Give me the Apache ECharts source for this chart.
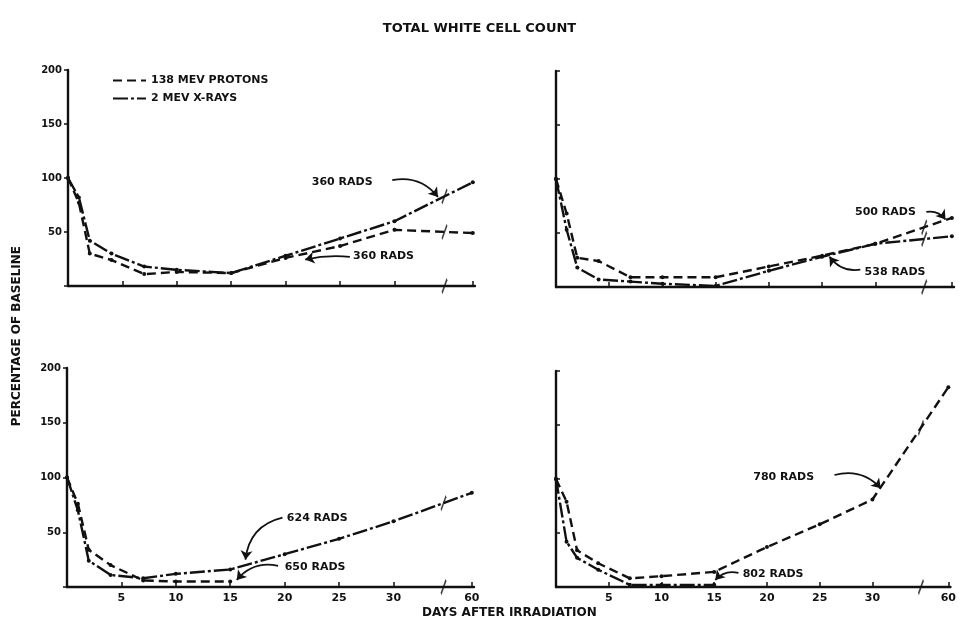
<!DOCTYPE html>
<html>
<head>
<meta charset="utf-8">
<title>Total White Cell Count</title>
<script src="https://cdn.jsdelivr.net/npm/echarts@6.0.0/dist/echarts.min.js"></script>
<style>
  html, body { margin: 0; padding: 0; background: #fff; }
  #chart { width: 959px; height: 623px; }
</style>
</head>
<body>
<div id="chart"></div>
<script>
// Days after irradiation at which counts were taken
const DAYS = [0, 1, 2, 4, 7, 10, 15, 20, 25, 30, 60];
const X_TICK_DAYS = [5, 10, 15, 20, 25, 30, 60];

// Percentage of baseline white cell count (null = no observation)
const xray360    = [100, 82, 42, 30, 18, 15, 12, 28, 44, 60, 96];
const proton360  = [100, 77, 30, 24, 11, 13, 12, 26, 37, 52, 49];
const proton500  = [100, 68, 27, 24, 9, 9, 9, 19, 29, 40, 64];
const xray538    = [100, 53, 18, 7, 5, 3, 1, 15, 28, 40, 47];
const xray624    = [100, 70, 24, 11, 8, 12, 16, 30, 44, 60, 86];
const proton650  = [100, 76, 34, 20, 6, 5, 5, null, null, null, null];
const proton780  = [100, 79, 34, 22, 8, 10, 14, 37, 58, 81, 185];
const xray802    = [100, 42, 27, 16, 2, 2, 2, null, null, null, null];

const PROTON_NAME = '138 MEV PROTONS';
const XRAY_NAME = '2 MEV X-RAYS';

// Broken time axis: days 0-30 are linear, the stretch 30-60 is compressed
const LAST_POS = 37.2;
const AXIS_MAX = 37.4;
const BREAK_POS = 34.6;
function axisPos(day) {
  return day <= 30 ? day : 30 + (day - 30) * (LAST_POS - 30) / 30;
}
function posLabel(pos) {
  for (const d of X_TICK_DAYS) if (Math.abs(axisPos(d) - pos) < 1e-6) return String(d);
  return '';
}

const FONT = 'DejaVu Sans';
const INK = '#111';

// Each series carries its dose note: text anchor, arrow tail/head (axis units), bend
const panels = [
  { grid: { left: 68, top: 70, width: 407, height: 216 }, showX: false, showY: true,
    series: [
      [XRAY_NAME, xray360, { text: '360 RADS', at: [22.4, 96.5], from: [29.8, 98], to: [34.0, 82.5], curve: 0.3 }],
      [PROTON_NAME, proton360, { text: '360 RADS', at: [26.2, 27.5], from: [25.9, 27], to: [21.8, 24.5], curve: -0.08 }]
    ] },
  { grid: { left: 556, top: 71, width: 398, height: 216 }, showX: false, showY: false,
    series: [
      [PROTON_NAME, proton500, { text: '500 RADS', at: [28.1, 69.5], from: [34.8, 69.5], to: [36.6, 62.5], curve: 0.3 }],
      [XRAY_NAME, xray538, { text: '538 RADS', at: [29.0, 14], from: [28.6, 16], to: [25.7, 28], curve: 0.3 }]
    ] },
  { grid: { left: 67, top: 368, width: 407, height: 219 }, showX: true, showY: true,
    series: [
      [XRAY_NAME, xray624, { text: '624 RADS', at: [20.2, 63.3], from: [19.8, 63.3], to: [16.4, 25], curve: -0.35 }],
      [PROTON_NAME, proton650, { text: '650 RADS', at: [20.0, 18.3], from: [19.4, 19.3], to: [15.6, 6.5], curve: -0.3 }]
    ] },
  { grid: { left: 556, top: 371, width: 398, height: 216 }, showX: true, showY: false,
    series: [
      [PROTON_NAME, proton780, { text: '780 RADS', at: [18.7, 102], from: [26.4, 103.7], to: [30.8, 91.5], curve: 0.3 }],
      [XRAY_NAME, xray802, { text: '802 RADS', at: [17.7, 12], from: [17.3, 13], to: [15.1, 6.5], curve: -0.3 }]
    ] }
];

const lineStyles = {
  [PROTON_NAME]: { color: INK, width: 2.4, type: [9, 5] },
  [XRAY_NAME]: { color: INK, width: 2.4, type: [15, 3, 3, 3] }
};

const grids = [], xAxes = [], yAxes = [], series = [];
const labelText = { fontFamily: FONT, fontWeight: 'bold', color: INK };

panels.forEach((p, i) => {
  grids.push(p.grid);
  xAxes.push({
    type: 'value', gridIndex: i, min: 0, max: AXIS_MAX,
    axisLine: { show: true, lineStyle: { color: INK, width: 2.4 } },
    axisTick: { show: true, inside: true, length: 5, lineStyle: { color: INK, width: 1.5 },
                customValues: X_TICK_DAYS.map(axisPos) },
    axisLabel: { show: p.showX, ...labelText, fontSize: 11, margin: 6,
                 customValues: X_TICK_DAYS.map(axisPos), formatter: posLabel },
    splitLine: { show: false }
  });
  yAxes.push({
    type: 'value', gridIndex: i, min: 0, max: 200, interval: 50,
    axisLine: { show: true, lineStyle: { color: INK, width: 2.4 } },
    axisTick: { show: true, inside: !p.showY, length: 4, lineStyle: { color: INK, width: 1.5 } },
    axisLabel: { show: p.showY, ...labelText, fontSize: 10, margin: 6,
                 formatter: v => (v === 0 ? '' : String(v)) },
    splitLine: { show: false }
  });

  p.series.forEach(([name, vals, note]) => {
    series.push({
      name, type: 'line', xAxisIndex: i, yAxisIndex: i,
      data: DAYS.map((d, j) => [axisPos(d), vals[j]]).filter(pt => pt[1] !== null),
      symbol: 'circle', symbolSize: 4, showSymbol: true,
      itemStyle: { color: INK },
      lineStyle: lineStyles[name],
      silent: true, z: 3,
      markPoint: {
        silent: true, symbol: 'circle', symbolSize: 0,
        label: { show: true, position: 'right', distance: 0, ...labelText, fontSize: 11 },
        data: [{ coord: note.at, label: { formatter: note.text } }]
      }
    });
    // Curved leader arrow from the dose note to its curve
    series.push({
      type: 'lines', coordinateSystem: 'cartesian2d', xAxisIndex: i, yAxisIndex: i,
      silent: true, z: 5, polyline: false,
      symbol: ['none', 'arrow'], symbolSize: [7, 9],
      lineStyle: { color: INK, width: 1.8, opacity: 1, curveness: note.curve },
      data: [{ coords: [note.from, note.to] }]
    });
  });

  // Break marks on the time axis and on every line that runs past day 30
  const marks = [[BREAK_POS, 0]];
  p.series.forEach(([, vals]) => {
    const v30 = vals[DAYS.indexOf(30)], v60 = vals[DAYS.indexOf(60)];
    if (v30 !== null && v60 !== null) {
      marks.push([BREAK_POS, v30 + (v60 - v30) * (BREAK_POS - 30) / (LAST_POS - 30)]);
    }
  });
  series.push({
    type: 'scatter', xAxisIndex: i, yAxisIndex: i, silent: true, z: 4,
    symbol: 'path://M0,20L8,0', symbolSize: [5, 14],
    itemStyle: { color: 'none', borderColor: INK, borderWidth: 2 },
    data: marks
  });
});

const chart = echarts.init(document.getElementById('chart'), null, { renderer: 'canvas' });
chart.setOption({
  animation: false,
  backgroundColor: '#fff',
  title: {
    text: 'TOTAL WHITE CELL COUNT', left: 'center', top: 17,
    textStyle: { ...labelText, fontSize: 13 }
  },
  legend: {
    data: [PROTON_NAME, XRAY_NAME], orient: 'vertical', left: 107, top: 70,
    itemWidth: 33, itemHeight: 10, itemGap: 7,
    itemStyle: { color: 'transparent', borderWidth: 0 },
    textStyle: { ...labelText, fontSize: 11 },
    selectedMode: false
  },
  graphic: [
    { type: 'text', left: 11, top: 246, rotation: Math.PI / 2,
      style: { text: 'PERCENTAGE OF BASELINE', font: 'bold 12px "DejaVu Sans"', fill: INK } },
    { type: 'text', left: 422, top: 607,
      style: { text: 'DAYS AFTER IRRADIATION', font: 'bold 12px "DejaVu Sans"', fill: INK } }
  ],
  grid: grids, xAxis: xAxes, yAxis: yAxes, series
});
</script>
</body>
</html>
